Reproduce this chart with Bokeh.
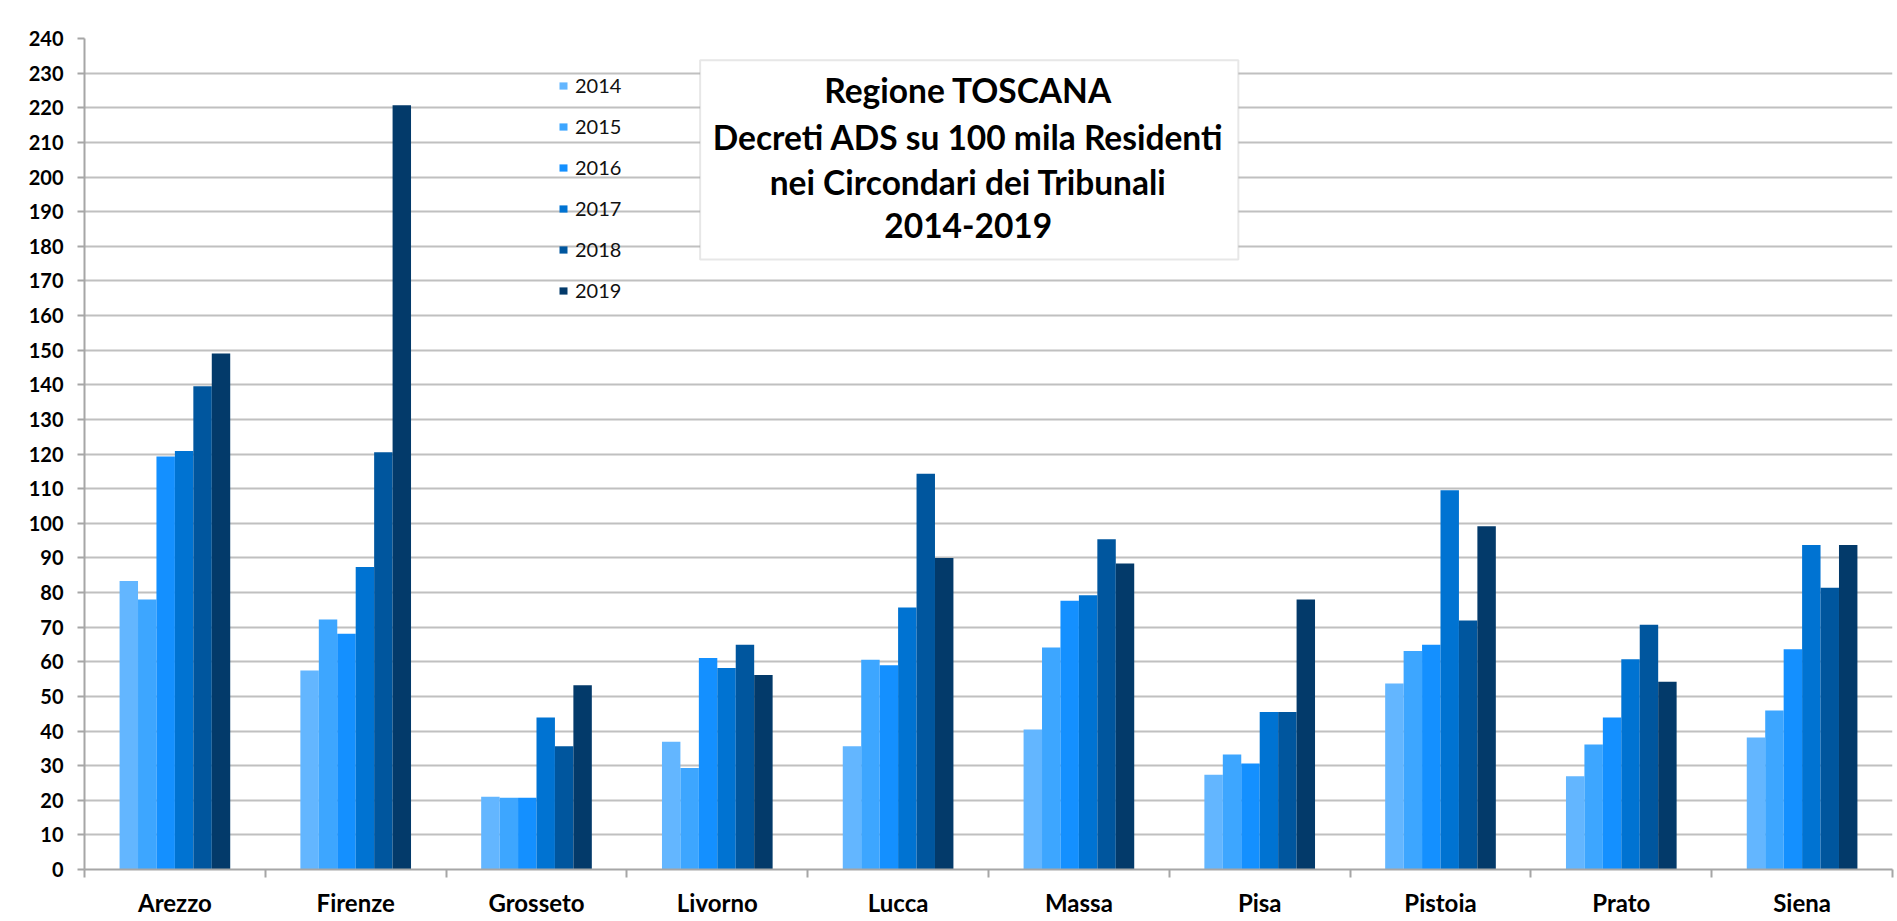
from bokeh.plotting import figure
from bokeh.models import (Range1d, FixedTicker, SingleIntervalTicker, Legend, LegendItem,
                          BoxAnnotation, Label, ColumnDataSource)
from bokeh.transform import dodge
from bokeh.embed import file_html
from bokeh.resources import INLINE

categories = ["Arezzo", "Firenze", "Grosseto", "Livorno", "Lucca",
              "Massa", "Pisa", "Pistoia", "Prato", "Siena"]
years = ["2014", "2015", "2016", "2017", "2018", "2019"]

v2014 = [83.3, 57.5, 21.0, 36.9, 35.6, 40.4, 27.4, 53.7, 26.9, 38.1]
v2015 = [78.0, 72.2, 20.7, 29.3, 60.6, 64.1, 33.2, 63.1, 36.1, 45.9]
v2016 = [119.3, 68.1, 20.7, 61.1, 59.0, 77.6, 30.6, 64.9, 43.9, 63.6]
v2017 = [120.9, 87.4, 43.9, 58.2, 75.7, 79.2, 45.5, 109.5, 60.7, 93.7]
v2018 = [139.6, 120.5, 35.6, 64.9, 114.3, 95.4, 45.5, 71.9, 70.7, 81.4]
v2019 = [149.0, 220.7, 53.2, 56.2, 90.0, 88.4, 78.0, 99.1, 54.2, 93.7]

colors = ["#63B6FF", "#3DA6FF", "#1490FF", "#0073D2", "#00569E", "#033A6A"]

title_lines = ["Regione TOSCANA",
               "Decreti ADS su 100 mila Residenti",
               "nei Circondari dei Tribunali",
               "2014-2019"]

series = [v2014, v2015, v2016, v2017, v2018, v2019]
n = len(categories)
centers = [i + 0.5 for i in range(n)]
data = {"x": centers}
for y, s in zip(years, series):
    data["y" + y] = s
source = ColumnDataSource(data)

FONT = "Lato"
GRID = "#C0C0C0"
AXIS = "#A6A6A6"

p = figure(width=1896, height=920, output_backend="svg", toolbar_location=None,
           x_range=Range1d(0, n), y_range=Range1d(0, 240),
           min_border_left=84, min_border_top=38, min_border_right=4, min_border_bottom=51)
p.outline_line_color = None
p.background_fill_color = "white"
p.border_fill_color = "white"

bar_w = 0.102
renderers = []
for i, y in enumerate(years):
    r = p.vbar(x=dodge("x", (i - 2.5) * bar_w, range=p.x_range), top="y" + y,
               width=bar_w, bottom=0, source=source,
               fill_color=colors[i], line_color=None)
    renderers.append(r)

# grid
p.xgrid.visible = False
p.ygrid.grid_line_color = GRID
p.ygrid.grid_line_width = 2
p.ygrid.ticker = SingleIntervalTicker(interval=10, num_minor_ticks=0)

# y axis
p.yaxis.ticker = SingleIntervalTicker(interval=10, num_minor_ticks=0)
p.yaxis.axis_line_color = AXIS
p.yaxis.axis_line_width = 2
p.yaxis.major_tick_line_color = AXIS
p.yaxis.major_tick_line_width = 2
p.yaxis.major_tick_out = 7
p.yaxis.major_tick_in = 0
p.yaxis.minor_tick_line_color = None
p.yaxis.major_label_standoff = 14
p.yaxis.major_label_text_font = FONT
p.yaxis.major_label_text_font_style = "bold"
p.yaxis.major_label_text_font_size = "20px"
p.yaxis.major_label_text_color = "black"

# x axis: labels at centers, ticks at category boundaries
p.xaxis.ticker = FixedTicker(ticks=centers, minor_ticks=list(range(n + 1)))
p.xaxis.major_label_overrides = {c: name for c, name in zip(centers, categories)}
p.xaxis.axis_line_color = AXIS
p.xaxis.axis_line_width = 2
p.xaxis.major_tick_line_color = None
p.xaxis.major_tick_out = 0
p.xaxis.major_tick_in = 0
p.xaxis.minor_tick_line_color = AXIS
p.xaxis.minor_tick_line_width = 2
p.xaxis.minor_tick_out = 8
p.xaxis.minor_tick_in = 0
p.xaxis.major_label_standoff = 10
p.xaxis.major_label_text_font = FONT
p.xaxis.major_label_text_font_style = "bold"
p.xaxis.major_label_text_font_size = "24px"
p.xaxis.major_label_text_color = "black"

# legend
legend = Legend(items=[LegendItem(label=y, renderers=[r]) for y, r in zip(years, renderers)],
                location=(474, 567), orientation="vertical",
                label_text_font=FONT, label_text_font_size="20px", label_text_color="#111111",
                glyph_width=10, glyph_height=9, label_standoff=7, spacing=17,
                padding=0, margin=0, label_height=20,
                background_fill_alpha=0, border_line_color=None)
p.add_layout(legend)

# title box
box = BoxAnnotation(left=3.405, right=6.382, top=233.7, bottom=176.2,
                    fill_color="white", fill_alpha=1.0,
                    line_color="#B0B0B0", line_width=2)
p.add_layout(box)
for text, yy in zip(title_lines, [225.0, 211.5, 198.5, 186.0]):
    p.add_layout(Label(x=4.888, y=yy, text=text, text_align="center", text_baseline="middle",
                       text_font=FONT, text_font_style="bold", text_font_size="33.5px",
                       text_color="black"))

open("out.html", "w").write(file_html(p, INLINE))
